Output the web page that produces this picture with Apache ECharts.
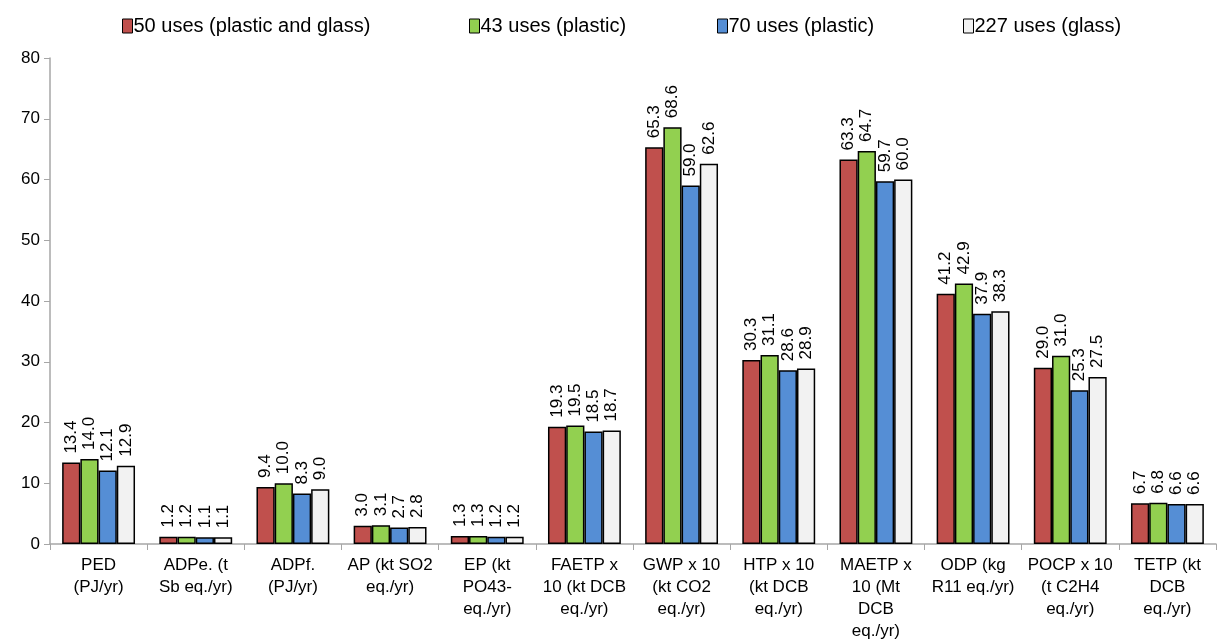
<!DOCTYPE html>
<html><head><meta charset="utf-8">
<script src="https://cdn.jsdelivr.net/npm/echarts@6/dist/echarts.min.js"></script>
<style>html,body{margin:0;padding:0;background:#fff}#c{width:1220px;height:643px}</style>
</head><body><div id="c"></div>
<script>
const categories = ["PED\n(PJ/yr)","ADPe. (t\nSb eq./yr)","ADPf.\n(PJ/yr)","AP (kt SO2\neq./yr)","EP (kt\nPO43-\neq./yr)","FAETP x\n10 (kt DCB\neq./yr)","GWP x 10\n(kt CO2\neq./yr)","HTP x 10\n(kt DCB\neq./yr)","MAETP x\n10 (Mt\nDCB\neq./yr)","ODP (kg\nR11 eq./yr)","POCP x 10\n(t C2H4\neq./yr)","TETP (kt\nDCB\neq./yr)"];
const seriesNames = ["50 uses (plastic and glass)","43 uses (plastic)","70 uses (plastic)","227 uses (glass)"];
const s50 = [13.4,1.2,9.4,3.0,1.3,19.3,65.3,30.3,63.3,41.2,29.0,6.7];
const s43 = [14.0,1.2,10.0,3.1,1.3,19.5,68.6,31.1,64.7,42.9,31.0,6.8];
const s70 = [12.1,1.1,8.3,2.7,1.2,18.5,59.0,28.6,59.7,37.9,25.3,6.6];
const s227 = [12.9,1.1,9.0,2.8,1.2,18.7,62.6,28.9,60.0,38.3,27.5,6.6];
const colors = ["#C0504D","#92D050","#558ED5","#F2F2F2"];
const allData = [s50,s43,s70,s227];
const legendLefts = [122,469,717,963];
const font = "Liberation Sans, Arial, sans-serif";
const chart = echarts.init(document.getElementById('c'));
chart.setOption({
  animation:false,
  textStyle:{fontFamily:font},
  legend: seriesNames.map((n,i)=>({
    top:16, left:legendLefts[i], itemWidth:10, itemHeight:14, padding:0, icon:'rect',
    textStyle:{fontSize:20,color:'#000',fontFamily:font,padding:[0,0,0,-4]},
    data:[{name:n,itemStyle:{color:colors[i],borderColor:'#000',borderWidth:1}}]
  })),
  grid:{left:50,right:4,top:58,bottom:99,containLabel:false},
  xAxis:{
    type:'category', data:categories,
    axisLine:{lineStyle:{color:'#A6A6A6',width:1.5}},
    axisTick:{show:true,alignWithLabel:false,length:6,lineStyle:{color:'#A6A6A6'}},
    axisLabel:{interval:0,color:'#000',fontSize:17,lineHeight:22,margin:10,fontFamily:font}
  },
  yAxis:{
    type:'value', min:0, max:80, interval:10,
    splitLine:{show:false},
    axisLine:{show:true,lineStyle:{color:'#A6A6A6',width:1.5}},
    axisTick:{show:true,length:6,lineStyle:{color:'#A6A6A6'}},
    axisLabel:{color:'#000',fontSize:17,margin:10,fontFamily:font}
  },
  series: allData.map((d,i)=>({
    name:seriesNames[i], type:'bar', data:d,
    barGap:'0%', barCategoryGap:'25%',
    itemStyle:{color:colors[i],borderColor:'#000',borderWidth:1.5},
    label:{show:true,position:'top',rotate:90,align:'left',verticalAlign:'middle',distance:9,
      fontSize:17,color:'#000',fontFamily:font,formatter:p=>p.value.toFixed(1)}
  }))
});
</script></body></html>
